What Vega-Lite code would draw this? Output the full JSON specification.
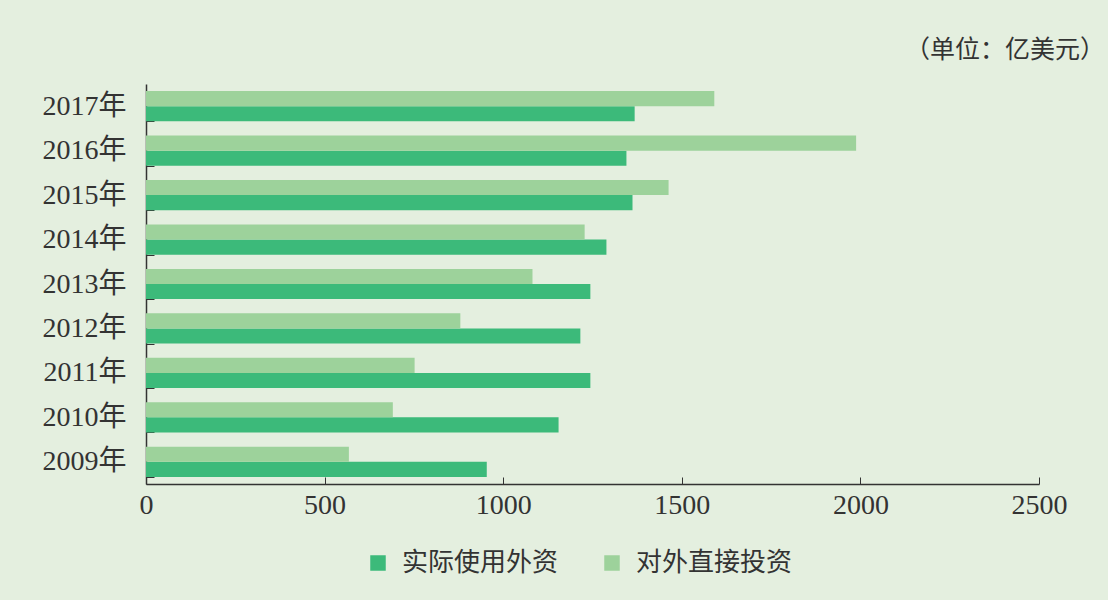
{
  "$schema": "https://vega.github.io/schema/vega-lite/v6.json",
  "width": 893,
  "height": 400,
  "autosize": {"type": "none"},
  "padding": {"left": 146, "top": 84, "right": 69, "bottom": 116},
  "background": "#e4efdf",
  "title": {
    "text": "（单位：亿美元）",
    "anchor": "end",
    "dx": 38,
    "offset": 7,
    "font": "Noto Sans CJK SC",
    "fontSize": 25,
    "fontWeight": "normal",
    "color": "#333333"
  },
  "data": {
    "values": [
      {"year": "2017年", "type": "实际使用外资", "value": 1368},
      {"year": "2017年", "type": "对外直接投资", "value": 1591},
      {"year": "2016年", "type": "实际使用外资", "value": 1345},
      {"year": "2016年", "type": "对外直接投资", "value": 1988},
      {"year": "2015年", "type": "实际使用外资", "value": 1362},
      {"year": "2015年", "type": "对外直接投资", "value": 1463},
      {"year": "2014年", "type": "实际使用外资", "value": 1289},
      {"year": "2014年", "type": "对外直接投资", "value": 1228},
      {"year": "2013年", "type": "实际使用外资", "value": 1244},
      {"year": "2013年", "type": "对外直接投资", "value": 1082},
      {"year": "2012年", "type": "实际使用外资", "value": 1216},
      {"year": "2012年", "type": "对外直接投资", "value": 880},
      {"year": "2011年", "type": "实际使用外资", "value": 1244},
      {"year": "2011年", "type": "对外直接投资", "value": 752},
      {"year": "2010年", "type": "实际使用外资", "value": 1155},
      {"year": "2010年", "type": "对外直接投资", "value": 691},
      {"year": "2009年", "type": "实际使用外资", "value": 954},
      {"year": "2009年", "type": "对外直接投资", "value": 568}
    ]
  },
  "mark": {"type": "bar"},
  "encoding": {
    "y": {
      "field": "year",
      "type": "nominal",
      "sort": ["2017年", "2016年", "2015年", "2014年", "2013年", "2012年", "2011年", "2010年", "2009年"],
      "scale": {"paddingInner": 0.32, "paddingOuter": 0.16},
      "axis": {
        "title": null,
        "tickBand": "extent",
        "tickSize": -8,
        "tickColor": "#333333",
        "domainColor": "#333333",
        "domainWidth": 1.5,
        "labelFont": "Liberation Serif, Noto Sans CJK SC",
        "labelFontSize": 28,
        "labelColor": "#333333",
        "labelPadding": 28
      }
    },
    "yOffset": {
      "field": "type",
      "type": "nominal",
      "sort": ["对外直接投资", "实际使用外资"]
    },
    "x": {
      "field": "value",
      "type": "quantitative",
      "scale": {"domain": [0, 2500], "nice": false},
      "axis": {
        "title": null,
        "values": [0, 500, 1000, 1500, 2000, 2500],
        "format": "d",
        "grid": false,
        "tickSize": -7,
        "tickColor": "#333333",
        "domainColor": "#333333",
        "domainWidth": 1.5,
        "labelFont": "Liberation Serif",
        "labelFontSize": 28,
        "labelColor": "#333333",
        "labelPadding": 14,
        "labelFlush": false
      }
    },
    "color": {
      "field": "type",
      "type": "nominal",
      "scale": {"domain": ["实际使用外资", "对外直接投资"], "range": ["#3cba7a", "#9dd29b"]},
      "legend": {
        "title": null,
        "orient": "none",
        "direction": "horizontal",
        "legendX": 219,
        "legendY": 466,
        "symbolType": "square",
        "symbolSize": 240,
        "symbolStrokeWidth": 0,
        "symbolOpacity": 1,
        "labelFont": "Noto Sans CJK SC",
        "labelFontSize": 26,
        "labelColor": "#333333",
        "labelOffset": 11,
        "columnPadding": 40
      }
    }
  },
  "config": {
    "view": {"stroke": null}
  }
}
